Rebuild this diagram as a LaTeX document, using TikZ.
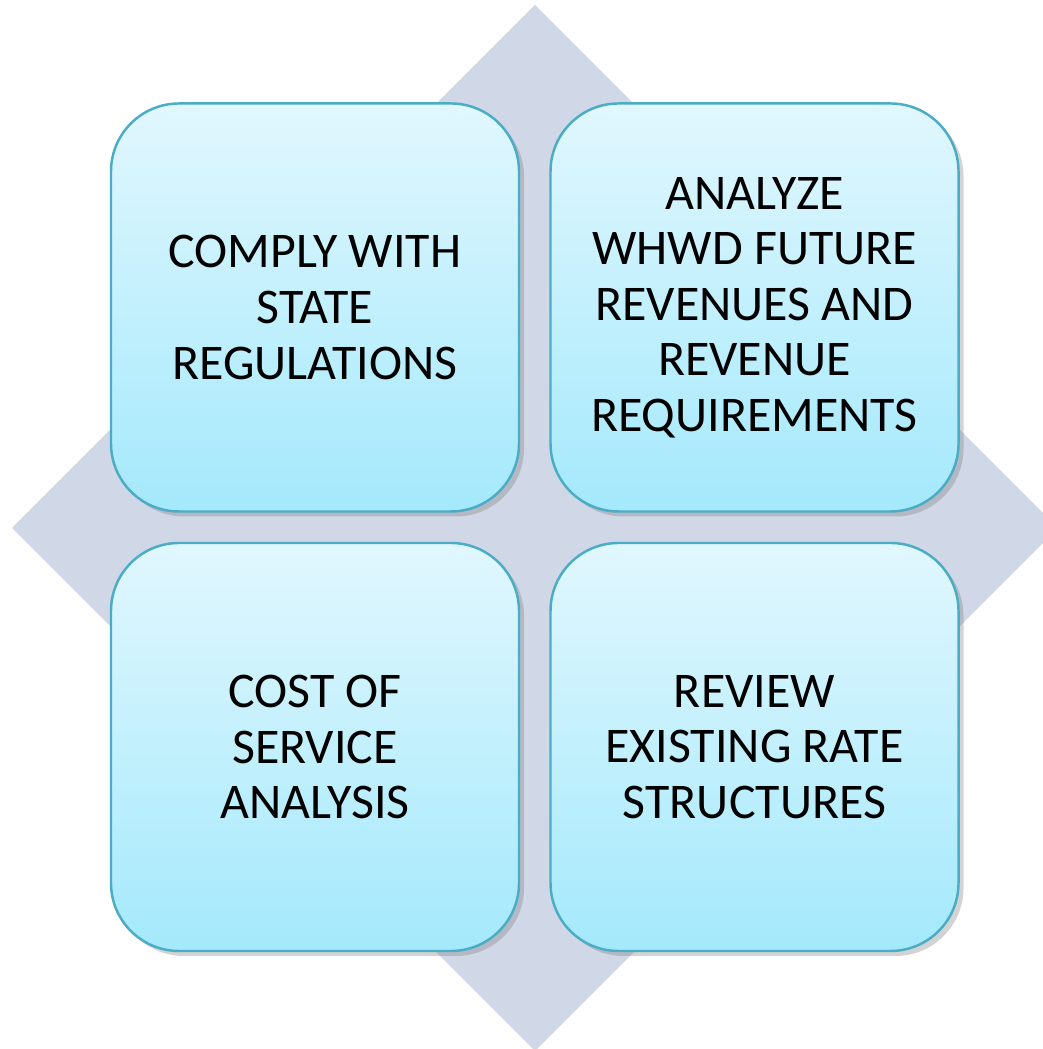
\documentclass[tikz,border=0pt]{standalone}
\usepackage{fontspec}
\setmainfont{Carlito}
\usetikzlibrary{calc, shapes, shadows}
\definecolor{diamondgray}{HTML}{D0D7E6}
\definecolor{boxtop}{HTML}{E1F7FE}
\definecolor{boxbottom}{HTML}{A4E9FC}
\definecolor{boxedge}{HTML}{4AACC5}
\newcommand{\myfontbox}{\fontsize{14.2}{15.8}\selectfont}
\tikzset{
	stepbox/.style={rectangle, rounded corners=0.68cm, minimum width=4.08cm, minimum height=4.08cm,
		draw=boxedge, line width=0.7pt, top color=boxtop, bottom color=boxbottom,
		drop shadow={shadow xshift=0.05cm, shadow yshift=-0.05cm, opacity=0.35},
		align=center, inner sep=0pt, font=\myfontbox}
}
\begin{document}
\begin{tikzpicture}
	%Frame of the picture
	\useasboundingbox (0,0) rectangle (10.42,10.49);
	%Diamond in the back
	\coordinate (mid) at (5.35,5.21);
	\fill[diamondgray] ($(mid)+(0,5.23)$) -- ($(mid)+(5.23,0)$) -- ($(mid)+(0,-5.23)$) -- ($(mid)+(-5.23,0)$) -- cycle;
	%Centers of the boxes
	\coordinate (center00) at (3.15,7.415);
	\coordinate (center01) at (7.545,7.415);
	\coordinate (center10) at (3.15,3.02);
	\coordinate (center11) at (7.545,3.02);
	%box00
	\node [stepbox] (comply) at (center00) {COMPLY WITH\\STATE\\REGULATIONS};
	%box01
	\node [stepbox] (analyze) at (center01) {ANALYZE\\WHWD FUTURE\\REVENUES AND\\REVENUE\\REQUIREMENTS};
	%box10
	\node [stepbox] (cost) at (center10) {COST OF\\SERVICE\\ANALYSIS};
	%box11
	\node [stepbox] (review) at (center11) {REVIEW\\EXISTING RATE\\STRUCTURES};
\end{tikzpicture}
\end{document}
